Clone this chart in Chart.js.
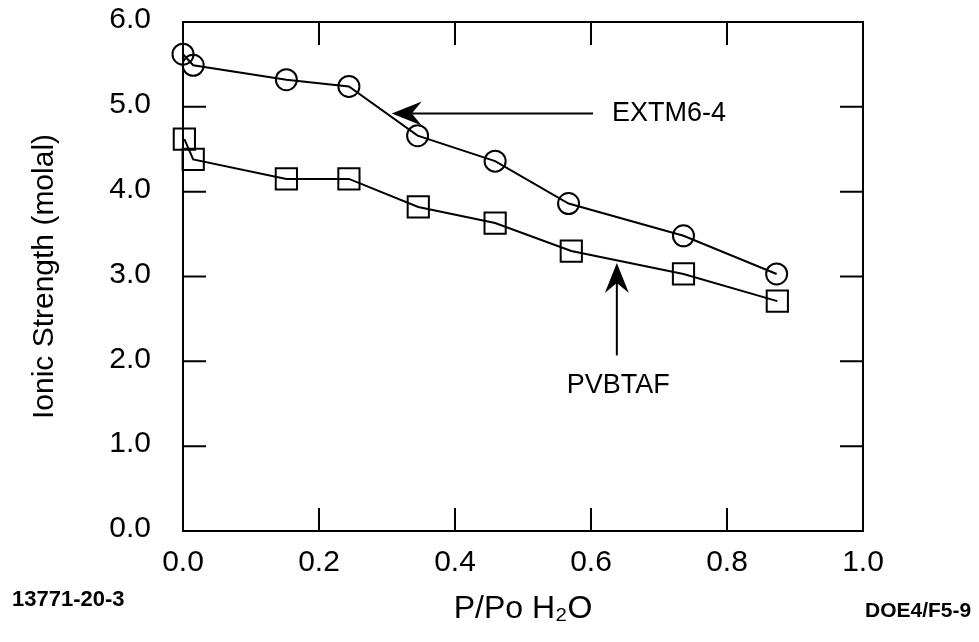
<!DOCTYPE html>
<html>
<head>
<meta charset="utf-8">
<script src="https://cdn.jsdelivr.net/npm/chart.js@4.4.1/dist/chart.umd.min.js"></script>
<style>
  html, body { margin: 0; padding: 0; background: #fff; }
  #wrap { width: 979px; height: 642px; position: relative; }
</style>
</head>
<body>
<div id="wrap"><canvas id="c" width="979" height="642"></canvas></div>
<script>
// ---- data ----
const extmX = [0.000, 0.015, 0.152, 0.244, 0.345, 0.459, 0.567, 0.736, 0.873];
const extmY = [5.62, 5.49, 5.32, 5.24, 4.66, 4.36, 3.86, 3.48, 3.03];
const pvbX  = [0.002, 0.015, 0.152, 0.244, 0.346, 0.459, 0.571, 0.736, 0.874];
const pvbY  = [4.62, 4.38, 4.15, 4.15, 3.82, 3.63, 3.30, 3.03, 2.71];

const seriesNames = ['EXTM6-4', 'PVBTAF'];
const xTickValues = [0.0, 0.2, 0.4, 0.6, 0.8, 1.0];
const yTickValues = [0.0, 1.0, 2.0, 3.0, 4.0, 5.0, 6.0];

// annotation anchors (data units)
const labelX = [0.631, 0.640];
const labelY = [4.92, 1.72];
const labelAlign = ['left', 'center'];
const arrowFromX = [0.603, 0.638];
const arrowFromY = [4.92, 2.07];
const arrowToX = [0.307, 0.638];
const arrowToY = [4.92, 3.16];

const footLeft = '13771-20-3';
const footRight = 'DOE4/F5-9';
const xTitle = 'P/Po H\u2082O';
const yTitle = 'Ionic Strength (molal)';

const FONT = '"Liberation Sans", Arial, Helvetica, sans-serif';

function toPts(xs, ys) { return xs.map((x, i) => ({ x: x, y: ys[i] })); }

const decor = {
  id: 'decor',
  afterDraw(chart) {
    const ctx = chart.ctx;
    const a = chart.chartArea;
    const xs = chart.scales.x, ys = chart.scales.y;
    ctx.save();
    ctx.strokeStyle = '#000';
    ctx.fillStyle = '#000';
    // frame
    ctx.lineWidth = 2;
    ctx.strokeRect(a.left, a.top, a.right - a.left, a.bottom - a.top);
    // inner ticks
    const TL = 23;
    ctx.beginPath();
    yTickValues.forEach(v => {
      if (v <= ys.min || v >= ys.max) return;
      const py = ys.getPixelForValue(v);
      ctx.moveTo(a.left, py); ctx.lineTo(a.left + TL, py);
      ctx.moveTo(a.right, py); ctx.lineTo(a.right - TL, py);
    });
    xTickValues.forEach(v => {
      if (v <= xs.min || v >= xs.max) return;
      const px = xs.getPixelForValue(v);
      ctx.moveTo(px, a.top); ctx.lineTo(px, a.top + TL);
      ctx.moveTo(px, a.bottom); ctx.lineTo(px, a.bottom - TL);
    });
    ctx.stroke();

    // annotation arrows
    ctx.lineWidth = 2;
    for (let i = 0; i < arrowFromX.length; i++) {
      const x1 = xs.getPixelForValue(arrowFromX[i]), y1 = ys.getPixelForValue(arrowFromY[i]);
      const x2 = xs.getPixelForValue(arrowToX[i]), y2 = ys.getPixelForValue(arrowToY[i]);
      const ang = Math.atan2(y2 - y1, x2 - x1);
      const L = 30, W = 12, N = 20;
      ctx.beginPath();
      ctx.moveTo(x1, y1);
      ctx.lineTo(x2 - Math.cos(ang) * N, y2 - Math.sin(ang) * N);
      ctx.stroke();
      const bx = x2 - Math.cos(ang) * L, by = y2 - Math.sin(ang) * L;
      const nx = x2 - Math.cos(ang) * N, ny = y2 - Math.sin(ang) * N;
      const px = -Math.sin(ang), py = Math.cos(ang);
      ctx.beginPath();
      ctx.moveTo(x2, y2);
      ctx.lineTo(bx + px * W, by + py * W);
      ctx.lineTo(nx, ny);
      ctx.lineTo(bx - px * W, by - py * W);
      ctx.closePath();
      ctx.fill();
    }
    // annotation labels
    ctx.font = '27px ' + FONT;
    ctx.textBaseline = 'middle';
    for (let i = 0; i < seriesNames.length; i++) {
      ctx.textAlign = labelAlign[i];
      ctx.fillText(seriesNames[i], xs.getPixelForValue(labelX[i]), ys.getPixelForValue(labelY[i]));
    }
    // footers
    ctx.font = 'bold 22px ' + FONT;
    ctx.textAlign = 'left';
    ctx.fillText(footLeft, 12, 600);
    ctx.font = 'bold 21px ' + FONT;
    ctx.fillText(footRight, 865, 611);
    ctx.restore();
  }
};

new Chart(document.getElementById('c'), {
  type: 'line',
  data: {
    datasets: [
      {
        label: seriesNames[0],
        data: toPts(extmX, extmY),
        borderColor: '#000',
        borderWidth: 2,
        pointStyle: 'circle',
        pointRadius: 10.5,
        pointBorderWidth: 2,
        pointBorderColor: '#000',
        pointBackgroundColor: 'rgba(0,0,0,0)',
        tension: 0,
        clip: false
      },
      {
        label: seriesNames[1],
        data: toPts(pvbX, pvbY),
        borderColor: '#000',
        borderWidth: 2,
        pointStyle: 'rect',
        pointRadius: 15,
        pointBorderWidth: 2,
        pointBorderColor: '#000',
        pointBackgroundColor: 'rgba(0,0,0,0)',
        tension: 0,
        clip: false
      }
    ]
  },
  options: {
    responsive: false,
    animation: false,
    events: [],
    layout: { padding: { left: 20, right: 116, top: 22, bottom: 0 } },
    plugins: { legend: { display: false }, tooltip: { enabled: false } },
    scales: {
      x: {
        type: 'linear',
        min: 0, max: 1,
        afterBuildTicks: s => { s.ticks = xTickValues.map(v => ({ value: v })); },
        afterFit: s => { s.height = 111; s.paddingLeft = 0; s.paddingRight = 0; },
        grid: { display: false, drawTicks: false },
        border: { display: false },
        ticks: {
          padding: 14,
          color: '#000',
          font: { family: FONT, size: 30 },
          callback: v => Number(v).toFixed(1),
          maxRotation: 0, autoSkip: false
        },
        title: {
          display: true, text: xTitle, color: '#000',
          font: { family: FONT, size: 32 },
          padding: { top: 0, bottom: 14 }
        }
      },
      y: {
        type: 'linear',
        min: 0, max: 6,
        afterBuildTicks: s => { s.ticks = yTickValues.map(v => ({ value: v })); },
        afterFit: s => { s.width = 163; s.paddingTop = 0; s.paddingBottom = 0; },
        grid: { display: false, drawTicks: false },
        border: { display: false },
        ticks: {
          padding: 32,
          labelOffset: -2,
          color: '#000',
          font: { family: FONT, size: 30 },
          callback: v => Number(v).toFixed(1),
          autoSkip: false
        },
        title: {
          display: true, text: yTitle, color: '#000',
          font: { family: FONT, size: 30 },
          padding: { top: 7, bottom: 0 }
        }
      }
    }
  },
  plugins: [decor]
});
</script>
</body>
</html>
